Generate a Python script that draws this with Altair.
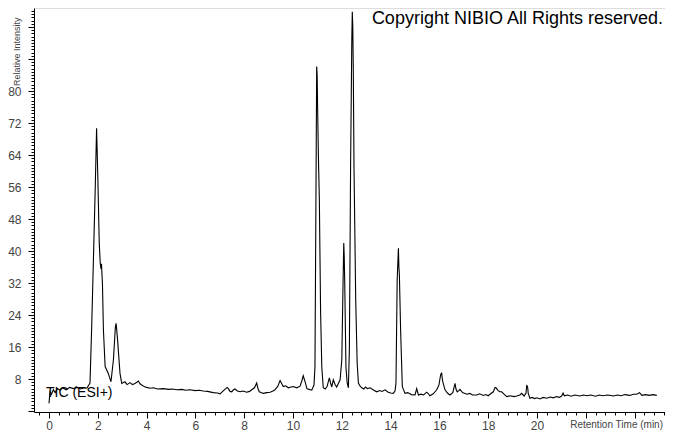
import altair as alt
import pandas as pd

# Retention time (min) and relative intensity
rt_min = [
    0.00, 0.04, 0.10, 0.18, 0.25, 0.35, 0.45, 0.55, 0.70, 0.85, 1.00, 1.15, 1.30, 1.45, 1.55,
    1.68, 1.75, 1.82, 1.89, 1.95, 1.97, 2.00, 2.06, 2.10, 2.13, 2.15, 2.19, 2.23, 2.30, 2.43,
    2.54, 2.64, 2.72, 2.75, 2.80, 2.91, 2.98, 3.11,
    3.20, 3.32, 3.42, 3.52, 3.60, 3.66, 3.73, 3.80, 3.90, 4.00, 4.15, 4.27, 4.45, 4.68, 4.90,
    5.05, 5.23, 5.45, 5.60, 5.78, 6.00, 6.15, 6.32, 6.50, 6.73, 6.90, 7.01, 7.12, 7.21, 7.30,
    7.35, 7.42, 7.49, 7.56, 7.62, 7.72, 7.83, 7.95, 8.10, 8.22, 8.31, 8.42, 8.51, 8.57, 8.62,
    8.78, 8.92, 9.06, 9.18, 9.26, 9.38, 9.47, 9.54, 9.60, 9.70, 9.81, 9.92, 10.01, 10.15, 10.29,
    10.36, 10.42, 10.50, 10.57, 10.66, 10.77,
    10.86, 10.90, 10.94, 10.97, 10.99, 11.01, 11.04, 11.08, 11.13, 11.18, 11.24, 11.32, 11.40,
    11.45, 11.49, 11.54, 11.59, 11.65, 11.72, 11.79, 11.86, 11.93, 12.00, 12.04, 12.08, 12.10,
    12.12, 12.17, 12.22, 12.27, 12.31, 12.36, 12.41, 12.43, 12.45, 12.47, 12.50, 12.57, 12.63,
    12.68, 12.75, 12.82, 12.90, 12.97, 13.05, 13.16,
    13.28, 13.43, 13.55, 13.65, 13.77, 13.90, 14.00, 14.11, 14.18, 14.22, 14.27, 14.32, 14.34,
    14.36, 14.41, 14.48, 14.59, 14.70, 14.85, 15.00, 15.07, 15.14, 15.25, 15.35, 15.48, 15.55,
    15.61, 15.75, 15.89, 15.98, 16.05, 16.09, 16.13, 16.23, 16.33, 16.43, 16.55, 16.64, 16.68,
    16.73, 16.80, 16.84, 16.95, 17.12, 17.25, 17.35, 17.53, 17.65, 17.80, 17.90, 18.00, 18.10,
    18.21, 18.28, 18.32, 18.41, 18.48, 18.55,
    18.65, 18.76, 18.90, 19.05, 19.17, 19.30, 19.37, 19.47, 19.55, 19.58, 19.62, 19.64, 19.71,
    19.80, 19.90, 20.00, 20.12, 20.25, 20.40, 20.55, 20.67, 20.80, 20.92, 21.01, 21.07, 21.12,
    21.25, 21.40, 21.55, 21.76, 21.90, 22.05, 22.20, 22.40, 22.55, 22.70, 22.90, 23.13, 23.30,
    23.45, 23.60, 23.80, 23.95, 24.09, 24.20, 24.30, 24.45, 24.60, 24.75, 24.91,
]
intensity = [
    1.9, 4.8, 4.2, 5.3, 4.6, 5.6, 5.2, 5.8, 5.3, 5.9, 5.6, 5.9, 5.5, 5.8, 5.7,
    7.0, 21.1, 37.8, 54.5, 70.7, 66.0, 58.6, 41.9, 37.0, 35.5, 36.8, 31.9, 20.3, 11.1, 9.4,
    7.3, 12.8, 21.0, 21.9, 18.6, 9.4, 6.9, 7.3,
    6.6, 7.1, 6.6, 6.9, 7.2, 7.5, 6.8, 6.5, 6.1, 5.9, 5.7, 5.8, 5.5, 5.6, 5.4,
    5.5, 5.3, 5.4, 5.2, 5.3, 5.1, 5.2, 5.0, 4.9, 4.6, 4.5, 4.3, 4.9, 5.4, 5.9,
    5.6, 4.9, 4.8, 5.3, 5.5, 5.0, 4.8, 5.0, 4.7, 4.9, 5.3, 5.8, 7.0, 5.5, 4.8,
    4.4, 4.6, 4.7, 5.0, 5.3, 6.2, 7.6, 6.8, 6.1, 6.3, 5.8, 6.0, 6.1, 5.8, 6.2,
    7.5, 8.8, 7.2, 5.6, 5.4, 5.2,
    6.5, 11.0, 52.8, 86.1, 84.0, 75.3, 64.0, 52.8, 25.0, 11.0, 5.8, 5.5, 6.2,
    7.4, 8.3, 7.0, 6.0, 7.8, 6.7, 6.0, 6.9, 7.8, 12.8, 27.8, 42.0, 38.5,
    32.0, 11.0, 7.0, 5.8, 15.3, 61.0, 92.8, 99.8, 96.0, 86.0, 61.0, 27.8, 12.0,
    7.0, 6.2, 5.8, 5.5, 6.0, 5.6, 5.8,
    5.3, 4.8, 5.1, 4.9, 5.3, 4.7, 4.5, 4.4, 5.0, 6.9, 32.8, 40.7, 36.0,
    34.0, 20.3, 6.1, 4.4, 4.6, 4.1, 4.0, 5.6, 4.0, 4.2, 4.0, 4.7, 4.3,
    3.8, 4.3, 5.3, 6.5, 9.0, 9.6, 7.5, 5.3, 4.5, 4.0, 4.6, 6.9, 5.5,
    4.8, 5.1, 5.4, 4.6, 4.2, 4.4, 4.0, 4.0, 4.3, 3.9, 4.1, 3.8, 4.3,
    4.8, 5.9, 5.8, 5.1, 4.8, 4.8,
    4.2, 3.6, 3.8, 3.6, 3.75, 4.0, 4.4, 3.75, 4.5, 6.5, 5.8, 4.4, 3.2,
    3.4, 3.1, 3.3, 3.0, 3.4, 3.2, 3.5, 3.3, 3.6, 3.4, 3.75, 4.5, 3.8,
    4.0, 3.7, 4.0, 3.75, 4.0, 3.8, 4.0, 3.7, 4.0, 3.8, 4.0, 3.75, 4.0,
    3.8, 4.1, 3.9, 4.2, 4.2, 4.6, 3.9, 4.1, 3.9, 4.1, 3.9,
]

x_ticks = [round(-0.4 + 0.4 * k, 1) for k in range(65)]
y_ticks = [round(0.8 * k, 1) for k in range(126)]

df = pd.DataFrame({"rt": rt_min, "ri": intensity})

FONT = "Liberation Sans"
W, H = 631, 404

x_axis = alt.Axis(
    values=x_ticks,
    labelExpr="(abs(datum.value % 2) < 0.001 && datum.value >= 0 && datum.value <= 20) ? format(datum.value, 'd') : ''",
    labelOverlap=False,
    labelFlush=False,
    grid=False,
    title=None,
    domainColor="black",
    tickColor="black",
    tickSize={"condition": {"test": "abs(datum.value % 2) < 0.001", "value": 6}, "value": 3},
    labelFont=FONT,
    labelFontSize=12,
    labelColor="#444",
    labelPadding=2,
)
y_axis = alt.Axis(
    values=y_ticks,
    labelExpr="(abs(datum.value % 8) < 0.001 && datum.value >= 8 && datum.value <= 80) ? format(datum.value, 'd') : ''",
    labelOverlap=False,
    labelFlush=False,
    grid=False,
    title=None,
    domainColor="black",
    tickColor="black",
    tickSize={"condition": {"test": "abs(datum.value % 8) < 0.001", "value": 6}, "value": 3},
    labelFont=FONT,
    labelFontSize=12,
    labelColor="#444",
    labelPadding=7,
)

line = alt.Chart(df).mark_line(color="black", strokeWidth=1.1, interpolate="linear").encode(
    x=alt.X("rt:Q", scale=alt.Scale(domain=[-0.615, 25.246], nice=False, zero=False), axis=x_axis),
    y=alt.Y("ri:Q", scale=alt.Scale(domain=[-0.25, 100.75], nice=False, zero=False), axis=y_axis),
)

def label(text, x, y, size, align, color="black", angle=0, baseline="middle"):
    kw = dict(text=text, font=FONT, fontSize=size, align=align, baseline=baseline, color=color)
    if angle:
        kw["angle"] = angle
    return alt.Chart(pd.DataFrame({"t": [text]})).mark_text(**kw).encode(
        x=alt.value(x), y=alt.value(y)
    )

copyright_t = label("Copyright NIBIO All Rights reserved.", 629, 16, 18, "right", baseline="alphabetic")
tic_t = label("TIC (ESI+)", 12, 385, 14, "left")
xtitle_t = label("Retention Time (min)", 629, 417, 10, "right", color="#444")
ytitle_t = label("Relative Intensity", -17, 78, 9, "left", color="#444", angle=270)

chart = alt.layer(line, copyright_t, tic_t, xtitle_t, ytitle_t).properties(
    width=W,
    height=H,
    autosize=alt.AutoSizeParams(type="none"),
    padding={"left": 26, "top": 0, "right": 0, "bottom": 20},
).configure_view(stroke=None).configure(background="white")

chart.save("out.html", embed_options={"renderer": "svg", "actions": False})
